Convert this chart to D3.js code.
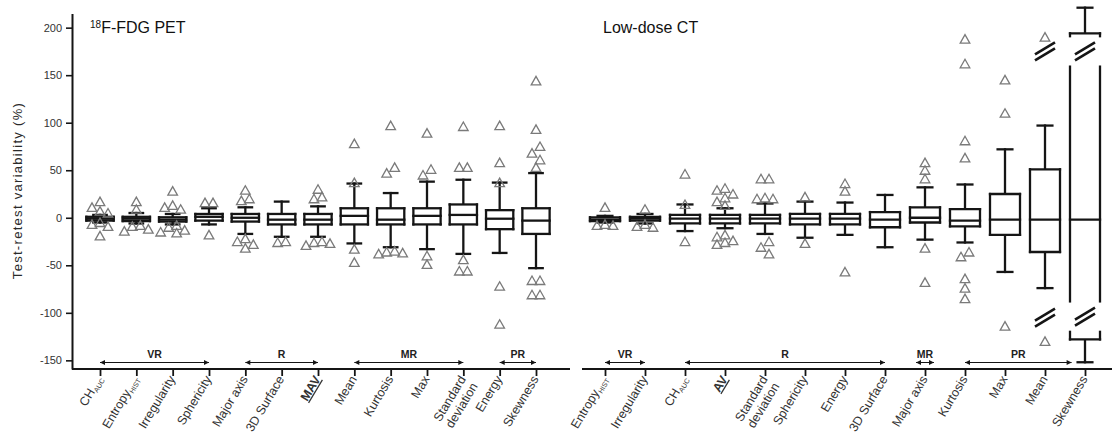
<!DOCTYPE html>
<html>
<head>
<meta charset="utf-8">
<script src="https://cdn.jsdelivr.net/npm/d3@7"></script>
<style>
  body { margin: 0; background: #fff; }
  svg { display: block; }
  text { font-family: "Liberation Sans", Arial, sans-serif; }
</style>
</head>
<body>
<svg id="chart" width="1112" height="438"></svg>
<script>
// ---- 18F-FDG PET ----
const petCategories = ["CH_AUC", "Entropy_HIST", "Irregularity", "Sphericity", "Major axis", "3D Surface",
  "MAV", "Mean", "Kurtosis", "Max", "Standard deviation", "Energy", "Skewness"];
const petQ1     = [-3, -3.5, -4, -3, -4, -7, -7, -7, -7, -7, -7, -12, -17];
const petMedian = [-1, -1,   -2,  1,  0, -2, -2,  2, -2,  2,  3,  -1,  -3];
const petQ3     = [ 1,  1,  0.5,  4,  4,  4,  4, 10, 10, 10, 14,   8,  10];
const petLow    = [-5, -6, -7, -7, -17, -20, -20, -27, -31, -33, -38, -37, -53];
const petHigh   = [ 3,  5,  4, 10, 11, 17, 12, 36, 26, 38, 40, 37, 47];
const petOutliers = [
  [17, 11, 7, 5, -5, -7, -9, -19],
  [17, 9, -8, -9, -12, -14],
  [28, 13, 11, 9, -8, -10, -13, -15, -16],
  [16, 16, -18],
  [29, 20, 18, -22, -25, -28, -32],
  [-25, -26],
  [30, 22, 20, -25, -26, -27, -29],
  [78, 37, -33, -47],
  [97, 53, 47, -35, -36, -37, -38],
  [89, 51, 45, -40, -49],
  [96, 53, 53, -44, -56, -56],
  [97, 58, 37, -72, -112],
  [144, 93, 75, 68, 61, 53, -66, -66, -81, -81]
];
const petHighlighted = ["MAV"];
const petGroups = [
  { label: "VR", from: "CH_AUC", to: "Sphericity" },
  { label: "R",  from: "Major axis", to: "MAV" },
  { label: "MR", from: "Mean", to: "Standard deviation" },
  { label: "PR", from: "Energy", to: "Skewness" }
];

// ---- Low-dose CT ----
const ctCategories = ["Entropy_HIST", "Irregularity", "CH_AUC", "AV", "Standard deviation", "Sphericity",
  "Energy", "3D Surface", "Major axis", "Kurtosis", "Max", "Mean", "Skewness"];
const ctQ1     = [-3.5, -3, -6, -6, -6, -7, -7, -10, -5, -9, -18, -36, -128];
const ctMedian = [-2, -1, -1, -1, -1, -1, -1,  -2,  0, -3,  -2,  -2,   -2];
const ctQ3     = [ 0.5, 1,  3,  3,  3,  4,  4,   6, 11,  9,  25,  51,  194];
const ctLow    = [-5, -6, -14, -11, -17, -21, -18, -31, -23, -26, -57, -74, -152];
const ctHigh   = [ 2,  4,  14,  10,  15,  17,  16,  24,  32,  35,  72,  97,  221];
const ctOutliers = [
  [11, -7, -8, -8],
  [9, -7, -9, -10],
  [46, 14, -25],
  [31, 29, 25, 21, 17, 13, -18, -20, -24, -26, -28],
  [41, 41, 21, 20, 20, -25, -31, -38],
  [22, -27],
  [36, 28, -57],
  [],
  [58, 50, 41, -32, -68],
  [188, 162, 81, 63, -36, -41, -64, -74, -85],
  [145, 110, -114],
  [190, -130],
  []
];
// axis breaks (scale interruptions) drawn on a category
const ctBreaks = [[], [], [], [], [], [], [], [], [], [], [], [175, -105], [175, -104]];
const ctHighlighted = ["AV"];
const ctGroups = [
  { label: "VR", from: "Entropy_HIST", to: "Irregularity" },
  { label: "R",  from: "CH_AUC", to: "3D Surface" },
  { label: "MR", from: "Major axis", to: "Major axis" },
  { label: "PR", from: "Kurtosis", to: "Skewness" }
];

const yTicks = [-150, -100, -50, 0, 50, 100, 150, 200];

// ---- layout ----
const svg = d3.select("#chart");
const axisX0 = 72, axisY = 369;
const y = d3.scaleLinear().domain([-159, 215]).range([368.9, 13.4]);
const ink = "#151515";

// y axis
const yAxis = svg.append("g")
  .attr("transform", `translate(${axisX0},0)`)
  .call(d3.axisLeft(y).tickValues(yTicks).tickFormat(d => String(d)).tickSize(6).tickSizeOuter(0).tickPadding(4));
yAxis.select(".domain").attr("stroke", ink).attr("stroke-width", 2);
yAxis.selectAll(".tick line").attr("stroke", ink).attr("stroke-width", 1.6);
yAxis.selectAll(".tick text").attr("font-size", 11).attr("fill", "#333")
  .attr("font-family", "'Liberation Sans', Arial, sans-serif");

svg.append("text")
  .attr("transform", `translate(22,${y(28)}) rotate(-90)`)
  .attr("text-anchor", "middle")
  .attr("font-size", 13).attr("fill", "#2a2a2a")
  .attr("textLength", 176).attr("lengthAdjust", "spacing")
  .text("Test-retest variability (%)");

function labelText(sel, name, highlighted) {
  const parts = name.split("_");
  if (name === "Standard deviation") {
    sel.append("tspan").attr("x", 0).attr("dy", 0).text("Standard");
    sel.append("tspan").attr("x", 0).attr("dy", "1.1em").text("deviation");
    return;
  }
  sel.append("tspan").text(parts[0]);
  if (parts[1]) sel.append("tspan").attr("font-size", 7).attr("dy", 2.5).text(parts[1]);
  if (highlighted.includes(name)) sel.attr("font-weight", "bold").attr("text-decoration", "underline");
}

function drawPanel(cfg) {
  const g = svg.append("g");
  const x = d3.scalePoint().domain(cfg.categories).range(cfg.range);
  const step = x.step();
  const boxW = step * 0.75, capW = step * 0.37;

  // x axis line and ticks
  g.append("line").attr("x1", cfg.axisStart).attr("x2", cfg.axisEnd)
    .attr("y1", axisY).attr("y2", axisY).attr("stroke", ink).attr("stroke-width", 2);
  const xa = g.append("g").attr("transform", `translate(0,${axisY})`)
    .call(d3.axisBottom(x).tickSize(7).tickSizeOuter(0).tickFormat(""));
  xa.select(".domain").remove();
  xa.selectAll(".tick line").attr("stroke", ink).attr("stroke-width", 1.8);

  // category labels
  cfg.categories.forEach(c => {
    const t = g.append("text")
      .attr("transform", `translate(${x(c) + 3},${axisY + 10}) rotate(-59)`)
      .attr("text-anchor", "end").attr("font-size", 12.5).attr("fill", "#333");
    labelText(t, c, cfg.highlighted);
  });

  // group arrows
  const arrowY = 362.5;
  cfg.groups.forEach(gr => {
    const i1 = cfg.categories.indexOf(gr.from), i2 = cfg.categories.indexOf(gr.to);
    let x1 = x(gr.from), x2 = x(gr.to);
    if (i1 === i2) { x1 -= 9; x2 += 9; }
    // keep clear of a lower whisker reaching below the axis floor
    if (cfg.low[i2] < y.domain()[0] + 12) x2 -= capW / 2 + 6;
    g.append("line").attr("x1", x1).attr("x2", x2).attr("y1", arrowY).attr("y2", arrowY)
      .attr("stroke", ink).attr("stroke-width", 1);
    g.append("path").attr("d", `M${x1},${arrowY}l5,-2.5v5z`).attr("fill", ink);
    g.append("path").attr("d", `M${x2},${arrowY}l-5,-2.5v5z`).attr("fill", ink);
    g.append("text").attr("x", (x1 + x2) / 2).attr("y", 357.5).attr("text-anchor", "middle")
      .attr("font-size", 10.5).attr("font-weight", "bold").attr("fill", "#222").text(gr.label);
  });

  const gapHalf = 16;
  cfg.categories.forEach((c, i) => {
    const cx = x(c);
    const q1 = cfg.q1[i], q3 = cfg.q3[i], md = cfg.median[i];
    const brk = (cfg.breaks && cfg.breaks[i]) || [];
    const lineAttrs = s => s.attr("stroke", ink).attr("stroke-width", 2.3).attr("stroke-linecap", "square");
    const seg = (x1, v1, x2, v2) => lineAttrs(g.append("line")
      .attr("x1", x1).attr("y1", y(v1)).attr("x2", x2).attr("y2", y(v2)));

    // whiskers
    seg(cx, q3, cx, cfg.high[i]);
    seg(cx, q1, cx, cfg.low[i]);
    seg(cx - capW / 2, cfg.high[i], cx + capW / 2, cfg.high[i]);
    seg(cx - capW / 2, cfg.low[i], cx + capW / 2, cfg.low[i]);

    // box sides, interrupted around axis breaks
    let segs = [[q1, q3]];
    brk.forEach(b => {
      segs = segs.flatMap(([a, bb]) => (b > a && b < bb) ? [[a, b - gapHalf], [b + gapHalf, bb]] : [[a, bb]]);
    });
    g.append("rect").attr("x", cx - boxW / 2).attr("width", boxW)
      .attr("y", y(q3)).attr("height", y(q1) - y(q3)).attr("fill", "#fff");
    segs.forEach(([a, b]) => {
      seg(cx - boxW / 2, a, cx - boxW / 2, b);
      seg(cx + boxW / 2, a, cx + boxW / 2, b);
    });
    seg(cx - boxW / 2, q3, cx + boxW / 2, q3);
    seg(cx - boxW / 2, q1, cx + boxW / 2, q1);
    seg(cx - boxW / 2, md, cx + boxW / 2, md);

    // break marks "//"
    brk.forEach(b => {
      const yb = y(b);
      [-3, 3].forEach(off => {
        g.append("line").attr("x1", cx - 10).attr("y1", yb + 6 + off)
          .attr("x2", cx + 10).attr("y2", yb - 6 + off)
          .attr("stroke", ink).attr("stroke-width", 2.6);
      });
    });

    // outliers: dodge overlapping triangles sideways, centred per cluster
    const vals = cfg.outliers[i].slice().sort((a, b) => b - a);
    const clusters = [];
    vals.forEach(v => {
      const last = clusters[clusters.length - 1];
      if (last && Math.abs(y(last[last.length - 1]) - y(v)) < 7) last.push(v);
      else clusters.push([v]);
    });
    clusters.forEach(cl => {
      const placed = [];
      cl.forEach(v => {
        const py = y(v);
        const cand = [0, -8, 8, -16, 16, -24, 24].find(dx =>
          placed.every(p => Math.abs(p.dx - dx) >= 8 || Math.abs(p.py - py) >= 7));
        placed.push({ dx: cand === undefined ? 0 : cand, py });
      });
      const mid = (d3.min(placed, p => p.dx) + d3.max(placed, p => p.dx)) / 2;
      placed.forEach(p => {
        g.append("path")
          .attr("d", `M${cx + p.dx - mid},${p.py - 4.5}l4.8,8.5h-9.6z`)
          .attr("fill", "none").attr("stroke", "#7a7a7a").attr("stroke-width", 1.3)
          .attr("stroke-linejoin", "miter");
      });
    });
  });
}

drawPanel({
  categories: petCategories, range: [100, 536], axisStart: axisX0, axisEnd: 570,
  q1: petQ1, median: petMedian, q3: petQ3, low: petLow, high: petHigh,
  outliers: petOutliers, highlighted: petHighlighted, groups: petGroups
});
drawPanel({
  categories: ctCategories, range: [605, 1085], axisStart: 582, axisEnd: 1112,
  q1: ctQ1, median: ctMedian, q3: ctQ3, low: ctLow, high: ctHigh,
  outliers: ctOutliers, breaks: ctBreaks, highlighted: ctHighlighted, groups: ctGroups
});

// short stub between the two panels' baselines
svg.append("line").attr("x1", 560).attr("x2", 570).attr("y1", axisY).attr("y2", axisY)
  .attr("stroke", ink).attr("stroke-width", 2);

// panel titles
const t1 = svg.append("text").attr("x", 90).attr("y", 33).attr("fill", "#111");
t1.append("tspan").attr("font-size", 10).attr("dy", -5).text("18");
t1.append("tspan").attr("font-size", 16).attr("dy", 5).text("F-FDG PET");
svg.append("text").attr("x", 603).attr("y", 33).attr("fill", "#111").attr("font-size", 16).text("Low-dose CT");
</script>
</body>
</html>
